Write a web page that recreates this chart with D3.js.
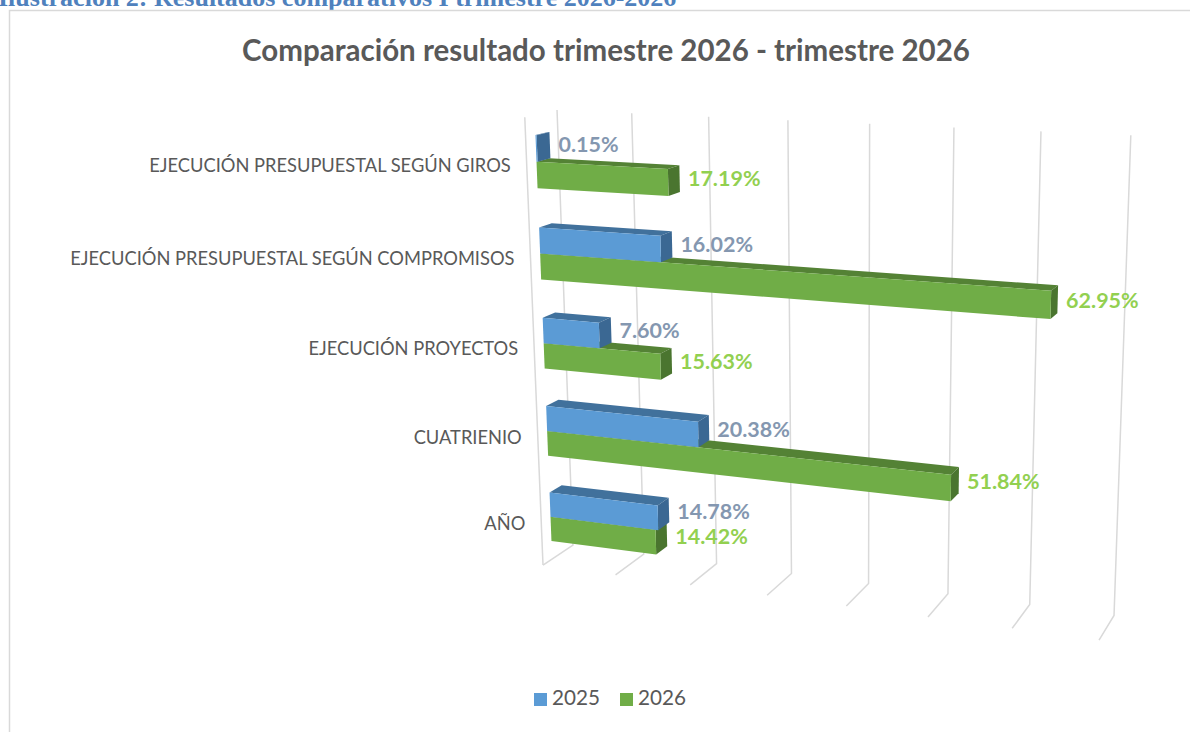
<!DOCTYPE html>
<html>
<head>
<meta charset="utf-8">
<script src="https://cdn.jsdelivr.net/npm/d3@7"></script>
<style>
  body { margin: 0; background: #fff; }
  svg { display: block; font-family: Lato, "Open Sans", sans-serif; }
</style>
</head>
<body>
<svg id="chart" width="1190" height="732"></svg>
<script>
// categories listed bottom -> top, the way the value axis stacks them
var categories = ['AÑO', 'CUATRIENIO', 'EJECUCIÓN PROYECTOS',
  'EJECUCIÓN PRESUPUESTAL SEGÚN COMPROMISOS', 'EJECUCIÓN PRESUPUESTAL SEGÚN GIROS'];
var seriesNames = ['2025', '2026'];
var values2025 = [14.78, 20.38, 7.60, 16.02, 0.15];
var values2026 = [14.42, 51.84, 15.63, 62.95, 17.19];
var valueTicks = [0, 10, 20, 30, 40, 50, 60, 70];
var chartTitle = 'Comparación resultado trimestre 2026 - trimestre 2026';
var captionText = 'Ilustración 2: Resultados comparativos I trimestre 2026-2026';

(function () {
  'use strict';
  var svg = d3.select('#chart');
  var colors = {
    '2025': { front: '#5b9bd5', top: '#41719c', side: '#3b6893', label: '#8497b0' },
    '2026': { front: '#70ad47', top: '#548235', side: '#4a752f', label: '#92d050' }
  };

  // 3d box size (world units) and camera
  var boxW = 548.7, boxH = 434.5, boxD = 61;
  var rotX = 20 * Math.PI / 180, rotY = 13.6 * Math.PI / 180;
  var focal = 1885, centerX = 851, centerY = 344;
  var origin = [-298.9, 214.5, 1829.3];
  var axisV = [Math.cos(rotX), Math.sin(rotX) * Math.sin(rotY), -Math.sin(rotX) * Math.cos(rotY)];
  var axisH = [0, -Math.cos(rotY), -Math.sin(rotY)];
  var axisZ = [Math.sin(rotX), -Math.cos(rotX) * Math.sin(rotY), Math.cos(rotX) * Math.cos(rotY)];

  function project(v, h, z) {
    var p = [0, 1, 2].map(function (i) {
      return origin[i] + v * axisV[i] + h * axisH[i] + z * axisZ[i];
    });
    return [centerX + focal * p[0] / p[2], centerY + focal * p[1] / p[2]];
  }
  function poly(pts) {
    return 'M' + pts.map(function (p) { return project(p[0], p[1], p[2]).join(','); }).join('L') + 'Z';
  }

  var x = d3.scaleLinear().domain([0, 70]).range([0, boxW]);
  var y = d3.scaleBand().domain(categories).range([0, boxH])
    .paddingInner(1.5 / 3.5).paddingOuter(0.75 / 3.5);
  var ySeries = d3.scaleBand().domain(['2026', '2025']).range([0, y.bandwidth()]);
  var zDepth = d3.scaleBand().domain(['bars']).range([0, boxD]).paddingOuter(0.75);

  // caption above the chart frame (mostly cut off)
  svg.append('text')
    .attr('x', -2).attr('y', 6)
    .attr('font-family', '"Liberation Serif", serif')
    .attr('font-weight', 'bold').attr('font-size', 26)
    .attr('fill', '#4f81bd')
    .text(captionText);

  svg.append('rect')
    .attr('x', 9.5).attr('y', 10.5).attr('width', 1200).attr('height', 800)
    .attr('fill', 'none').attr('stroke', '#d9d9d9').attr('stroke-width', 1.5);

  svg.append('text')
    .attr('x', 606).attr('y', 61)
    .attr('text-anchor', 'middle')
    .attr('font-weight', 'bold').attr('font-size', 29.5)
    .attr('fill', '#595959')
    .text(chartTitle);

  // gridlines: back wall + floor
  var grid = svg.append('g').attr('stroke', '#d9d9d9').attr('stroke-width', 1.5).attr('fill', 'none');
  valueTicks.forEach(function (t) {
    var b = project(x(t), 0, boxD), tp = project(x(t), boxH, boxD), f = project(x(t), 0, 0);
    grid.append('path').attr('d', 'M' + f + 'L' + b + 'L' + tp);
  });
  grid.append('path').attr('d', 'M' + project(0, 0, 0) + 'L' + project(0, boxH, 0));

  // bars
  var z0 = zDepth('bars'), z1 = z0 + zDepth.bandwidth();
  var bars = [];
  categories.forEach(function (cat, i) {
    [['2026', values2026[i]], ['2025', values2025[i]]].forEach(function (s) {
      var h0 = y(cat) + ySeries(s[0]);
      bars.push({ series: s[0], value: s[1], h0: h0, h1: h0 + ySeries.bandwidth() });
    });
  });

  var barG = svg.append('g');
  bars.forEach(function (d) {
    var v = x(d.value), c = colors[d.series];
    var g = barG.append('g');
    g.append('path').attr('fill', c.top)
      .attr('d', poly([[0, d.h1, z0], [v, d.h1, z0], [v, d.h1, z1], [0, d.h1, z1]]));
    g.append('path').attr('fill', c.side)
      .attr('d', poly([[v, d.h0, z0], [v, d.h1, z0], [v, d.h1, z1], [v, d.h0, z1]]));
    g.append('path').attr('fill', c.front)
      .attr('d', poly([[0, d.h0, z0], [v, d.h0, z0], [v, d.h1, z0], [0, d.h1, z0]]));
  });

  // value labels
  bars.forEach(function (d) {
    var v = x(d.value);
    var px = Math.max(project(v, d.h1, z1)[0], project(v, d.h0, z1)[0]);
    var py = project(v, (d.h0 + d.h1) / 2, (z0 + z1) / 2)[1];
    svg.append('text')
      .attr('x', px + 8).attr('y', py)
      .attr('dominant-baseline', 'middle')
      .attr('font-weight', 'bold').attr('font-size', 21.5)
      .attr('fill', colors[d.series].label)
      .text(d.value.toFixed(2) + '%');
  });

  // category labels
  categories.forEach(function (cat) {
    var p = project(0, y(cat) + y.bandwidth() / 2, 0);
    svg.append('text')
      .attr('x', p[0] - 16).attr('y', p[1] + 3)
      .attr('text-anchor', 'end').attr('dominant-baseline', 'middle')
      .attr('font-size', 18.3).attr('fill', '#595959')
      .text(cat);
  });

  // legend
  var legend = svg.append('g').attr('transform', 'translate(534,693)');
  seriesNames.forEach(function (name, i) {
    var item = legend.append('g').attr('transform', 'translate(' + (i * 86) + ',0)');
    item.append('rect').attr('width', 13).attr('height', 13).attr('fill', colors[name].front);
    item.append('text')
      .attr('x', 18).attr('y', 7).attr('dominant-baseline', 'middle')
      .attr('font-size', 20.7).attr('fill', '#595959')
      .text(name);
  });
})();
</script>
</body>
</html>
